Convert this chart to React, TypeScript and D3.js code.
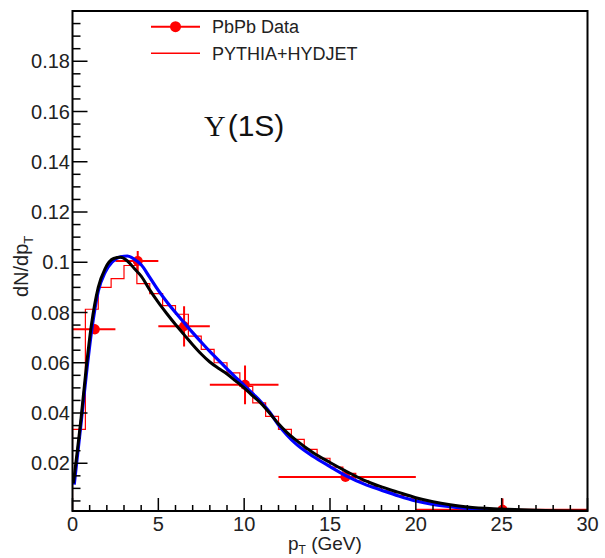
import React from "react";
import * as d3 from "d3";

// ---- data ----
const dataX = [1.3, 3.8, 6.5, 10.05, 15.9, 25.05];
const dataXLo = [0, 2.5, 5, 8, 12, 20];
const dataXHi = [2.5, 5, 8, 12, 20, 30];
const dataY = [0.0733, 0.1005, 0.0745, 0.0512, 0.0145, 0.0015];
const dataErr = [0.002, 0.004, 0.008, 0.0077, 0.0012, 0.0045];

const histEdgeLo = 0;
const histBinWidth = 0.75;
const histValues = [
  0.0335, 0.0813, 0.0900, 0.0935, 0.0987, 0.0915, 0.0875, 0.0827, 0.0793, 0.0706,
  0.0653, 0.0600, 0.0560, 0.0506, 0.0440, 0.0387, 0.0335, 0.0295, 0.0255, 0.0220,
  0.0185, 0.0160, 0.0130, 0.0108, 0.0090, 0.0072, 0.0058, 0.0046, 0.0038, 0.0031,
  0.0026, 0.0022, 0.0018, 0.0015, 0.0013, 0.0011, 0.0009, 0.0008, 0.0007, 0.0006,
];

const blueX = [0.1, 0.5, 0.8, 1.1, 1.5, 1.9, 2.3, 2.8, 3.2, 3.6, 4.0, 4.5, 5.0, 5.5, 6.0, 6.5, 7.0, 7.5, 8.0, 8.5, 9.0, 9.5, 10.0, 10.5, 11.0, 11.5, 12.0, 12.5, 13.0, 14.0, 15.0, 16.0, 17.0, 18.0, 19.0, 20.0, 21.0, 22.0, 23.0, 25.0, 27.0, 30.0];
const blueY = [0.0115, 0.036, 0.055, 0.072, 0.0885, 0.096, 0.1, 0.1022, 0.1025, 0.1012, 0.099, 0.094, 0.0888, 0.0842, 0.08, 0.076, 0.072, 0.0682, 0.0645, 0.061, 0.0576, 0.0542, 0.051, 0.0477, 0.0443, 0.0402, 0.0352, 0.0312, 0.0278, 0.0228, 0.0187, 0.0148, 0.0117, 0.0093, 0.007, 0.005, 0.0036, 0.0027, 0.002, 0.0012, 0.0008, 0.0005];

const blackX = [0.05, 0.5, 0.8, 1.1, 1.5, 1.9, 2.4, 2.8, 3.2, 3.6, 4.0, 4.5, 5.0, 5.5, 6.0, 6.5, 7.0, 7.5, 8.0, 8.5, 9.0, 9.5, 10.0, 10.5, 11.0, 11.5, 12.0, 12.5, 13.0, 14.0, 15.0, 16.0, 17.0, 18.0, 19.0, 20.0, 21.0, 22.0, 23.0, 25.0, 27.0, 30.0];
const blackY = [0.012, 0.038, 0.058, 0.075, 0.09, 0.0975, 0.1015, 0.102, 0.1005, 0.0975, 0.0945, 0.089, 0.084, 0.0795, 0.0752, 0.0712, 0.0672, 0.0635, 0.0603, 0.0578, 0.0555, 0.0528, 0.05, 0.0468, 0.0437, 0.0398, 0.0357, 0.0322, 0.0293, 0.0243, 0.0203, 0.0166, 0.0132, 0.0106, 0.0084, 0.0063, 0.0047, 0.0035, 0.0026, 0.0018, 0.0013, 0.001];

const xTicks = [0, 5, 10, 15, 20, 25, 30];
const yTicks = [0.02, 0.04, 0.06, 0.08, 0.1, 0.12, 0.14, 0.16, 0.18];
const yTickLabels = ["0.02", "0.04", "0.06", "0.08", "0.1", "0.12", "0.14", "0.16", "0.18"];

const legendLabels = ["PbPb Data", "PYTHIA+HYDJET"];

// ---- layout ----
const W = 605, H = 558;
const L = 72.5, R = 587.5, T = 11, B = 511;
const RED = "#ff0000";
const FONT = "'Liberation Sans', Arial, Helvetica, sans-serif";

export default function App() {
  const x = d3.scaleLinear().domain([0, 30]).range([L, R]);
  const y = d3.scaleLinear().domain([0.001, 0.2]).range([B, T]);

  const line = d3
    .line<[number, number]>()
    .x((d) => x(d[0]))
    .y((d) => y(d[1]))
    .curve(d3.curveMonotoneX);

  const bluePts = blueX.map((v, i) => [v, blueY[i]] as [number, number]);
  const blackPts = blackX.map((v, i) => [v, blackY[i]] as [number, number]);

  // histogram step path
  let hp = "";
  histValues.forEach((v, i) => {
    const x0 = x(histEdgeLo + i * histBinWidth);
    const x1 = x(histEdgeLo + (i + 1) * histBinWidth);
    const yy = y(v);
    if (i === 0) hp += `M${x0},${y(0.001)}L${x0},${yy}`;
    else hp += `L${x0},${yy}`;
    hp += `L${x1},${yy}`;
  });
  hp += `L${x(30)},${y(0.001)}`;

  const xMinor = d3.range(0, 31, 1);
  const yMinor = d3.range(0.005, 0.2, 0.005);

  return (
    <svg width={W} height={H} style={{ position: "absolute", left: 0, top: 0, background: "#fff" }} fontFamily={FONT}>
      <rect x={0} y={0} width={W} height={H} fill="#fff" />
      <defs>
        <clipPath id="plot">
          <rect x={L} y={T} width={R - L} height={B - T} />
        </clipPath>
      </defs>

      <g clipPath="url(#plot)">
        <path d={hp} fill="none" stroke={RED} strokeWidth={1.2} />
        {dataX.map((v, i) => (
          <g key={i} stroke={RED} strokeWidth={2}>
            <line x1={x(dataXLo[i])} x2={x(dataXHi[i])} y1={y(dataY[i])} y2={y(dataY[i])} />
            <line x1={x(v)} x2={x(v)} y1={y(dataY[i] - dataErr[i])} y2={y(dataY[i] + dataErr[i])} />
            <circle cx={x(v)} cy={y(dataY[i])} r={5} fill={RED} stroke="none" />
          </g>
        ))}
        <path d={line(bluePts) || ""} fill="none" stroke="#0000ff" strokeWidth={3.2} />
        <path d={line(blackPts) || ""} fill="none" stroke="#000" strokeWidth={3} />
      </g>

      {/* frame */}
      <rect x={L} y={T} width={R - L} height={B - T} fill="none" stroke="#000" strokeWidth={2} />

      {/* x ticks */}
      {xMinor.map((v) => (
        <line key={"xm" + v} x1={x(v)} x2={x(v)} y1={B} y2={B - (v % 5 === 0 ? 13 : 6)} stroke="#000" strokeWidth={1.5} />
      ))}
      {xTicks.map((v) => (
        <text key={"xl" + v} x={x(v)} y={531} textAnchor="middle" fontSize={20} fill="#222">
          {v}
        </text>
      ))}

      {/* y ticks */}
      {yMinor.map((v, i) => {
        const major = (i + 1) % 4 === 0;
        return <line key={"ym" + i} x1={L} x2={L + (major ? 15 : 8)} y1={y(v)} y2={y(v)} stroke="#000" strokeWidth={1.5} />;
      })}
      {yTicks.map((v, i) => (
        <text key={"yl" + i} x={70} y={y(v) + 7} textAnchor="end" fontSize={20} fill="#222">
          {yTickLabels[i]}
        </text>
      ))}

      {/* axis titles */}
      <text x={288} y={550} fontSize={19} fill="#222">
        p<tspan fontSize={12} dy={4}>T</tspan>
        <tspan dy={-4}> (GeV)</tspan>
      </text>
      <text transform="translate(28,297) rotate(-90)" fontSize={20} fill="#222">
        dN/dp<tspan fontSize={13} dy={5}>T</tspan>
      </text>

      {/* legend */}
      <line x1={151} x2={200} y1={26.7} y2={26.7} stroke={RED} strokeWidth={2} />
      <circle cx={175.5} cy={26.7} r={5.5} fill={RED} />
      <text x={212} y={33} fontSize={18} fill="#222">{legendLabels[0]}</text>
      <line x1={151} x2={200} y1={53.3} y2={53.3} stroke={RED} strokeWidth={1.5} />
      <text x={212} y={59.5} fontSize={18} fill="#222">{legendLabels[1]}</text>

      {/* label */}
      <text x={204} y={136} fontSize={30} fill="#111">
        <tspan fontFamily="'Liberation Serif', 'Times New Roman', serif">Υ</tspan>
        <tspan dx={2}>(1S)</tspan>
      </text>
    </svg>
  );
}
